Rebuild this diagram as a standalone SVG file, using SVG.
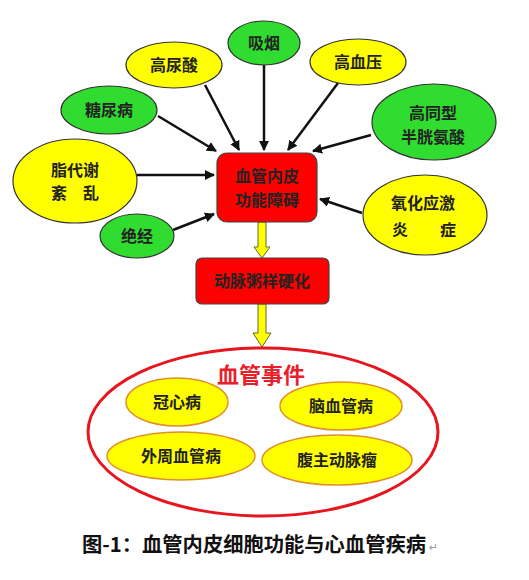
<svg xmlns="http://www.w3.org/2000/svg" width="529" height="580" viewBox="0 0 529 580">
<defs>
<marker id="ah" viewBox="0 0 10 10" refX="9" refY="5" markerWidth="4" markerHeight="4" orient="auto" markerUnits="strokeWidth">
<path d="M0,0 L10,5 L0,10 z" fill="#111"/>
</marker>
<style>
.t{font-family:"Noto Sans CJK SC","Noto Sans",sans-serif;font-size:16px;fill:#222;text-anchor:middle;font-weight:bold}
.g{fill:#2fdc2f;stroke:#333;stroke-width:1.2}
.y{fill:#ffff00;stroke:#333;stroke-width:1.2}
.yi{fill:#ffff00;stroke:#e0902a;stroke-width:1.5}
.r{fill:#ff0000;stroke:#444;stroke-width:1.2}
.c{stroke:#111;stroke-width:2.5;fill:none;marker-end:url(#ah)}
.ya{fill:#ffff00;stroke:#666633;stroke-width:1}
</style>
</defs>
<rect width="529" height="580" fill="#fff"/>
<g id="connectors">
<line class="c" x1="205" y1="85" x2="239" y2="150"/>
<line class="c" x1="158" y1="116" x2="216" y2="151"/>
<line class="c" x1="137" y1="175" x2="214" y2="175"/>
<line class="c" x1="173" y1="230" x2="214" y2="214"/>
<line class="c" x1="264" y1="65" x2="264" y2="150"/>
<line class="c" x1="338" y1="83" x2="288" y2="150"/>
<line class="c" x1="371" y1="135" x2="313" y2="151"/>
<line class="c" x1="362" y1="213" x2="320" y2="199"/>
<path class="ya" d="M258,222 L266,222 L266,247 L270,247 L262,258 L254,247 L258,247 z"/>
<path class="ya" d="M258,304 L266,304 L266,333 L271,333 L262,347 L253,333 L258,333 z"/>
</g>
<g id="n_gaoniaosuan"><ellipse class="y" cx="174" cy="65" rx="48" ry="23"/><text class="t" x="174" y="71">高尿酸</text></g>
<g id="n_tangniaobing"><ellipse class="g" cx="109" cy="110" rx="48" ry="24"/><text class="t" x="109" y="116">糖尿病</text></g>
<g id="n_zhidaixie"><ellipse class="y" cx="75" cy="181" rx="62" ry="42"/><text class="t" x="75" y="176">脂代谢</text><text class="t" x="75" y="199">紊　乱</text></g>
<g id="n_juejing"><ellipse class="g" cx="137" cy="236" rx="37" ry="22"/><text class="t" x="137" y="242">绝经</text></g>
<g id="n_xiyan"><ellipse class="g" cx="264" cy="43" rx="36" ry="22"/><text class="t" x="264" y="49">吸烟</text></g>
<g id="n_gaoxueya"><ellipse class="y" cx="358" cy="62" rx="48" ry="23"/><text class="t" x="358" y="68">高血压</text></g>
<g id="n_gaotongxing"><ellipse class="g" cx="434" cy="122" rx="62" ry="38"/><text class="t" x="433" y="119">高同型</text><text class="t" x="433" y="143">半胱氨酸</text></g>
<g id="n_yanghua"><ellipse class="y" cx="425" cy="215" rx="62" ry="40"/><text class="t" x="423" y="209">氧化应激</text><text class="t" x="424" y="236">炎　　症</text></g>
<g id="n_neipi"><rect class="r" x="217" y="153" width="100" height="69" rx="10"/><text class="t" x="267" y="182">血管内皮</text><text class="t" x="267" y="206">功能障碍</text></g>
<g id="n_zhouyang"><rect class="r" x="196" y="258" width="133" height="46" rx="6"/><text class="t" x="262" y="287">动脉粥样硬化</text></g>
<g id="n_shijian">
<ellipse cx="263" cy="432" rx="175" ry="84" fill="#fff" stroke="#e8141e" stroke-width="3"/>
<text x="261" y="383" font-family="'Noto Sans CJK SC','Noto Sans',sans-serif" font-size="22" font-weight="bold" fill="#e8202a" text-anchor="middle">血管事件</text>
</g>
<g id="n_guanxinbing"><ellipse class="yi" cx="177" cy="402" rx="51" ry="24"/><text class="t" x="177" y="408">冠心病</text></g>
<g id="n_naoxueguan"><ellipse class="yi" cx="341" cy="406" rx="61" ry="24"/><text class="t" x="341" y="412">脑血管病</text></g>
<g id="n_waizhou"><ellipse class="yi" cx="181" cy="456" rx="74" ry="24"/><text class="t" x="181" y="462">外周血管病</text></g>
<g id="n_fuzhu"><ellipse class="yi" cx="337" cy="460" rx="75" ry="25"/><text class="t" x="337" y="466">腹主动脉瘤</text></g>
<text x="82" y="552" font-family="'Noto Sans CJK SC',sans-serif" font-size="20.3" font-weight="bold" fill="#111">图-1：血管内皮细胞功能与心血管疾病</text>
<text x="429" y="551" font-family="'DejaVu Sans',sans-serif" font-size="11" fill="#999">↵</text>
</svg>
